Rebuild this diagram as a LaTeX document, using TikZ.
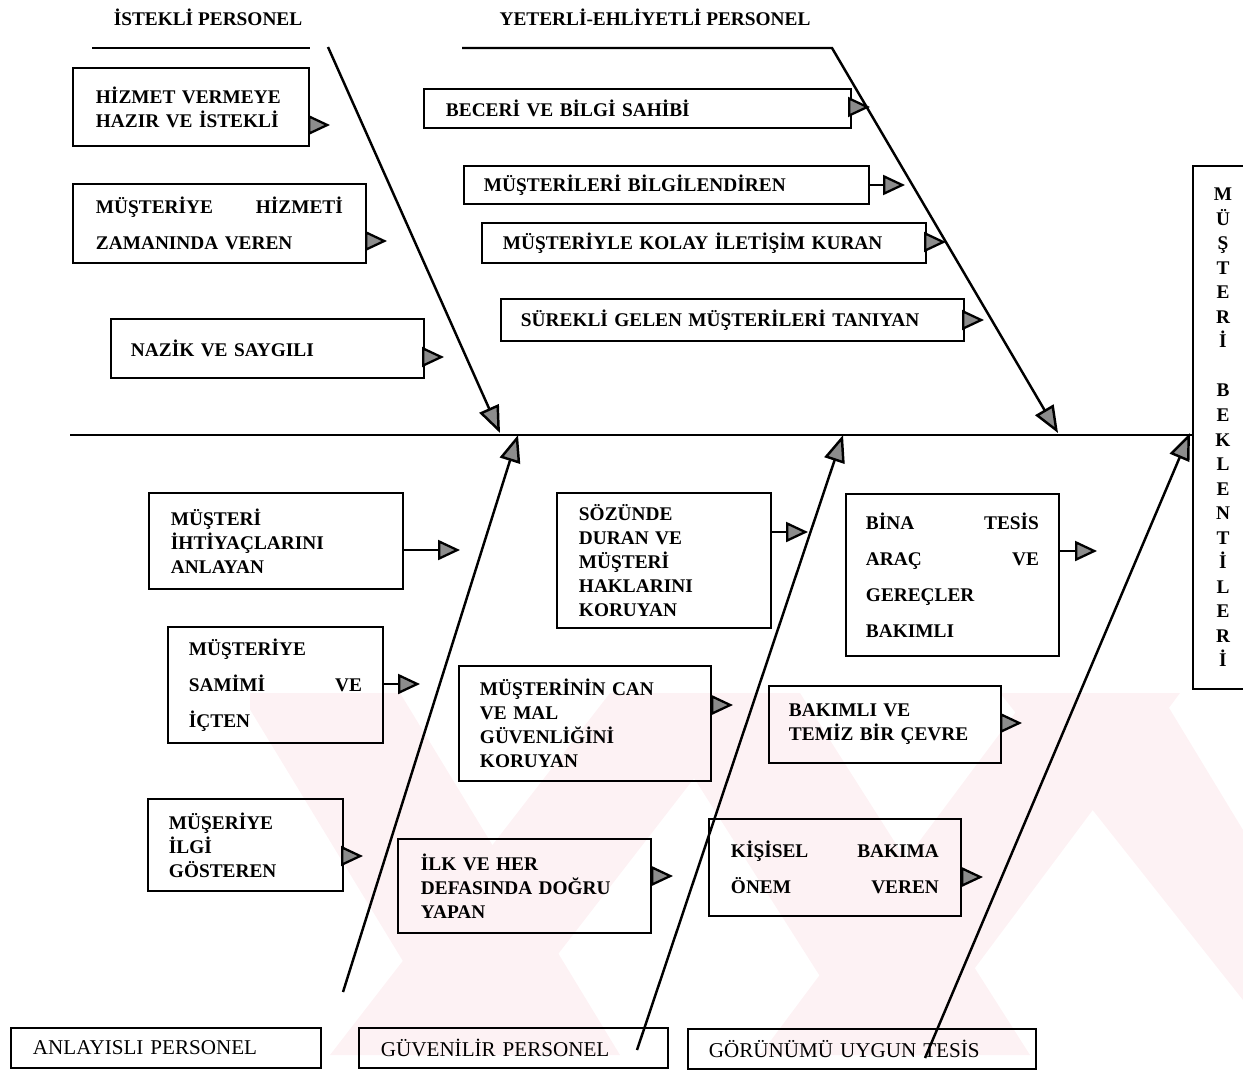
\documentclass[tikz,border=0pt]{standalone}
\usepackage{fontspec}
\setmainfont{Liberation Serif}
\usetikzlibrary{arrows.meta}

\definecolor{pembe}{RGB}{253,242,244}
% two words pushed to both ends of a line
\newcommand{\iki}[2]{\leavevmode\hbox to\hsize{#1\hfill#2}}

\tikzset{
  kutu/.style={draw, line width=1.1pt, anchor=north west, inner xsep=0pt, inner ysep=0pt,
    align=left, font=\bfseries\fontsize{11}{13.6}\selectfont},
  genis/.style={font=\bfseries\fontsize{11}{20.5}\selectfont},
  etiket/.style={draw, line width=1.1pt, anchor=north west, inner xsep=0pt, inner ysep=0pt,
    align=left, font=\fontsize{12}{14}\selectfont},
  baslik/.style={font=\bfseries\fontsize{11}{13}\selectfont},
  ok/.style={line width=1.3pt, -{Triangle[length=0.44cm, width=0.4cm, fill=black!45]}},
  kilcik/.style={line width=1.4pt, -{Triangle[length=0.54cm, width=0.42cm, fill=black!45]}},
}

\begin{document}
\begin{tikzpicture}[x=0.02cm, y=-0.02cm]
    \useasboundingbox (0,0) rectangle (1243,1069);

    % faint watermark
    \begin{scope}
        \clip (250,693) rectangle (1243,1055);
        \fill[pembe] (240,693) -- (400,693) -- (620,1055) -- (460,1055) -- cycle;
        \fill[pembe] (330,1055) -- (480,1055) -- (760,693) -- (610,693) -- cycle;
        \fill[pembe] (640,693) -- (800,693) -- (1030,1055) -- (870,1055) -- cycle;
        \fill[pembe] (760,1055) -- (910,1055) -- (1180,693) -- (1030,693) -- cycle;
        \fill[pembe] (1000,693) -- (1160,693) -- (1243,830) -- (1243,1000) -- cycle;
    \end{scope}

    % headers
    \node[baslik] (h1) at (208,17) {İSTEKLİ PERSONEL};
    \node[baslik] (h2) at (655,17) {YETERLİ-EHLİYETLİ PERSONEL};

    % result box
    \node[draw, line width=1.1pt, anchor=north west, minimum width=1.2cm, minimum height=10.46cm,
        align=center, inner sep=0pt, font=\bfseries\fontsize{11}{13.95}\selectfont] (sonuc) at (1192,165)
        {M\\Ü\\Ş\\T\\E\\R\\İ\\~\\B\\E\\K\\L\\E\\N\\T\\İ\\L\\E\\R\\İ};

    % spine and bones
    \coordinate (omurga) at (70,435);
    \draw[line width=1.3pt] (omurga) -- (sonuc.west |- omurga);

    \coordinate (c1a) at (92,48);
    \coordinate (c1b) at (310,48);
    \draw[line width=1.3pt] (c1a) -- (c1b);
    \coordinate (b1s) at (328,47);
    \coordinate (b1e) at (500,433);
    \draw[kilcik] (b1s) -- (b1e);

    \coordinate (c2a) at (462,48);
    \coordinate (c2b) at (832,48);
    \coordinate (b2e) at (1058,433);
    \draw[kilcik] (c2a) -- (c2b) -- (b2e);

    % upper left causes
    \node[kutu, minimum width=4.72cm, minimum height=1.56cm, text width=3.8cm] (k1) at (72,67)
        {HİZMET~VERMEYE\\HAZIR~VE~İSTEKLİ};
    \node[kutu, genis, minimum width=5.86cm, minimum height=1.58cm, text width=4.94cm] (k2) at (72,183)
        {\iki{MÜŞTERİYE}{HİZMETİ}\\ZAMANINDA~VEREN};
    \node[kutu, minimum width=6.26cm, minimum height=1.18cm, text width=5.46cm] (k3) at (110,318)
        {NAZİK~VE~SAYGILI};

    % upper right causes
    \node[kutu, minimum width=8.54cm, minimum height=0.78cm, text width=7.66cm] (k4) at (423,88)
        {BECERİ~VE~BİLGİ~SAHİBİ};
    \node[kutu, minimum width=8.1cm, minimum height=0.76cm, text width=7.3cm] (k5) at (463,165)
        {MÜŞTERİLERİ~BİLGİLENDİREN};
    \node[kutu, minimum width=8.88cm, minimum height=0.8cm, text width=8.04cm] (k6) at (481,222)
        {MÜŞTERİYLE~KOLAY~İLETİŞİM~KURAN};
    \node[kutu, minimum width=9.26cm, minimum height=0.84cm, text width=8.46cm] (k7) at (500,298)
        {SÜREKLİ~GELEN~MÜŞTERİLERİ~TANIYAN};

    % lower causes
    \node[kutu, minimum width=5.08cm, minimum height=1.92cm, text width=4.2cm] (k8) at (148,492)
        {MÜŞTERİ\\İHTİYAÇLARINI\\ANLAYAN};
    \node[kutu, genis, minimum width=4.3cm, minimum height=2.32cm, text width=3.46cm] (k9) at (167,626)
        {MÜŞTERİYE\\\iki{SAMİMİ}{VE}\\İÇTEN};
    \node[kutu, minimum width=3.9cm, minimum height=1.84cm, text width=3.06cm] (k10) at (147,798)
        {MÜŞERİYE\\İLGİ\\GÖSTEREN};
    \node[kutu, minimum width=4.28cm, minimum height=2.7cm, text width=3.4cm] (k11) at (556,492)
        {SÖZÜNDE\\DURAN~VE\\MÜŞTERİ\\HAKLARINI\\KORUYAN};
    \node[kutu, minimum width=5.04cm, minimum height=2.3cm, text width=4.2cm] (k12) at (458,665)
        {MÜŞTERİNİN~CAN\\VE~MAL\\GÜVENLİĞİNİ\\KORUYAN};
    \node[kutu, minimum width=5.06cm, minimum height=1.88cm, text width=4.14cm] (k13) at (397,838)
        {İLK~VE~HER\\DEFASINDA~DOĞRU\\YAPAN};
    \node[kutu, genis, minimum width=4.26cm, minimum height=3.24cm, text width=3.46cm] (k14) at (845,493)
        {\iki{BİNA}{TESİS}\\\iki{ARAÇ}{VE}\\GEREÇLER\\BAKIMLI};
    \node[kutu, minimum width=4.64cm, minimum height=1.54cm, text width=3.84cm] (k15) at (768,685)
        {BAKIMLI~VE\\TEMİZ~BİR~ÇEVRE};
    \node[kutu, genis, minimum width=5.04cm, minimum height=1.94cm, text width=4.16cm] (k16) at (708,818)
        {\iki{KİŞİSEL}{BAKIMA}\\\iki{ÖNEM}{VEREN}};

    % bottom labels
    \node[etiket, minimum width=6.2cm, minimum height=0.8cm, text width=5.32cm] (e1) at (10,1027)
        {ANLAYISLI PERSONEL};
    \node[etiket, minimum width=6.18cm, minimum height=0.8cm, text width=5.3cm] (e2) at (358,1027)
        {GÜVENİLİR PERSONEL};
    \node[etiket, minimum width=6.96cm, minimum height=0.8cm, text width=6.12cm] (e3) at (687,1028)
        {GÖRÜNÜMÜ UYGUN TESİS};

    % lower bones
    \coordinate (a1s) at (343,992);
    \coordinate (a1e) at (518,435);
    \draw[kilcik] (a1s) -- (a1e);
    \coordinate (a2s) at (637,1050);
    \coordinate (a2e) at (843,435);
    \draw[kilcik] (a2s) -- (a2e);
    \coordinate (a3s) at (925,1058);
    \coordinate (a3e) at (1190,433);
    \draw[kilcik] (a3s) -- (a3e);

    % small arrows out of the boxes
    \coordinate (u1) at (330,125);
    \coordinate (u2) at (387,241);
    \coordinate (u3) at (444,357);
    \coordinate (u4) at (870,107);
    \coordinate (u5) at (905,185);
    \coordinate (u6) at (946,242);
    \coordinate (u7) at (984,320);
    \coordinate (u8) at (460,550);
    \coordinate (u9) at (420,684);
    \coordinate (u10) at (363,856);
    \coordinate (u11) at (808,532);
    \coordinate (u12) at (733,705);
    \coordinate (u13) at (673,876);
    \coordinate (u14) at (1097,551);
    \coordinate (u15) at (1022,723);
    \coordinate (u16) at (983,877);
    \foreach \i in {1,...,16}
        \draw[ok] (k\i.east |- u\i) -- (u\i);
\end{tikzpicture}
\end{document}
